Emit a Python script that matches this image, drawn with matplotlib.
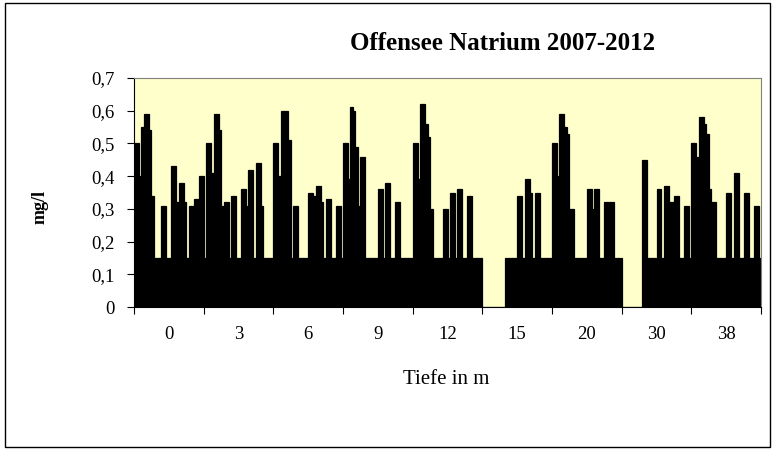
import numpy as np
import matplotlib.pyplot as plt
from matplotlib.patches import Rectangle

plt.rcParams['font.family'] = ['Liberation Serif', 'DejaVu Serif']

# Tiefen (m) und Natrium-Messwerte (mg/l) 2007-2012, je Tiefe eine Zeitreihe
tiefen = ['0', '3', '6', '9', '12', '15', '20', '30', '38']

na_0 = [0.50, 0.50, 0.40, 0.55, 0.59, 0.59, 0.54, 0.34, 0.15, 0.15, 0.15, 0.31, 0.31, 0.15,
        0.15, 0.43, 0.43, 0.32, 0.38, 0.38, 0.32, 0.15, 0.31, 0.31, 0.33, 0.33, 0.40, 0.40]
na_3 = [0.15, 0.50, 0.50, 0.41, 0.59, 0.59, 0.54, 0.31, 0.32, 0.32, 0.15, 0.34, 0.34, 0.15,
        0.15, 0.36, 0.36, 0.31, 0.42, 0.42, 0.15, 0.44, 0.44, 0.31, 0.15, 0.15, 0.15, 0.15]
na_6 = [0.50, 0.50, 0.40, 0.60, 0.60, 0.60, 0.51, 0.15, 0.31, 0.31, 0.15, 0.15, 0.15, 0.15,
        0.35, 0.35, 0.34, 0.37, 0.37, 0.32, 0.15, 0.33, 0.33, 0.15, 0.15, 0.31, 0.31, 0.15]
na_9 = [0.50, 0.50, 0.39, 0.61, 0.60, 0.49, 0.31, 0.46, 0.46, 0.15, 0.15, 0.15, 0.15, 0.15,
        0.36, 0.36, 0.15, 0.38, 0.38, 0.15, 0.15, 0.32, 0.32, 0.15, 0.15, 0.15, 0.15, 0.15]
na_12 = [0.50, 0.50, 0.39, 0.62, 0.62, 0.56, 0.52, 0.30, 0.15, 0.15, 0.15, 0.15, 0.30, 0.30,
         0.15, 0.35, 0.35, 0.15, 0.36, 0.36, 0.15, 0.15, 0.34, 0.34, 0.15, 0.15, 0.15, 0.15]
na_15 = [0, 0, 0, 0, 0, 0, 0, 0, 0, 0.15, 0.15, 0.15, 0.15, 0.15,
         0.34, 0.34, 0.15, 0.39, 0.39, 0.35, 0.15, 0.35, 0.35, 0.15, 0.15, 0.15, 0.15, 0.15]
na_20 = [0.50, 0.50, 0.40, 0.59, 0.59, 0.55, 0.53, 0.30, 0.30, 0.15, 0.15, 0.15, 0.15, 0.15,
         0.36, 0.36, 0.30, 0.36, 0.36, 0.15, 0.15, 0.32, 0.32, 0.32, 0.32, 0.15, 0.15, 0.15]
na_30 = [0, 0, 0, 0, 0, 0, 0, 0, 0.45, 0.45, 0.15, 0.15, 0.15, 0.15,
         0.36, 0.36, 0.15, 0.37, 0.37, 0.32, 0.32, 0.34, 0.34, 0.15, 0.15, 0.31, 0.31, 0.15]
na_38 = [0.50, 0.50, 0.46, 0.58, 0.58, 0.56, 0.53, 0.36, 0.32, 0.32, 0.15, 0.15, 0.15, 0.15,
         0.35, 0.35, 0.15, 0.41, 0.41, 0.15, 0.15, 0.35, 0.35, 0.15, 0.15, 0.31, 0.31, 0.15]

gruppen = [na_0, na_3, na_6, na_9, na_12, na_15, na_20, na_30, na_38]
werte = [v for g in gruppen for v in g]
n = len(na_0)

fig = plt.figure(figsize=(7.74, 4.5), dpi=100)
ax = fig.add_axes([134/774, 143/450, 627/774, 229/450])

x = np.arange(len(werte))
ax.bar(x, werte, width=1.0, color='black', edgecolor='black', linewidth=0.9)
ax.set_xlim(-0.5, len(werte) - 0.5)
ax.set_ylim(0, 0.7)
ax.set_facecolor('#FFFFCC')

yt = np.arange(0, 0.71, 0.1)
ax.set_yticks(yt)
ax.set_yticklabels(['0'] + ['0,%d' % i for i in range(1, 8)])

grenzen = np.arange(len(tiefen) + 1) * n - 0.5
ax.set_xticks(grenzen)
ax.set_xticklabels([])
mitten = np.arange(len(tiefen)) * n + n / 2 - 0.5
ax.set_xticks(mitten, minor=True)
ax.set_xticklabels(tiefen, minor=True)

ax.tick_params(axis='x', which='minor', length=0, pad=14, labelsize=13.5)
ax.tick_params(axis='x', which='major', length=5, direction='out', color='black')
ax.tick_params(axis='y', length=5, pad=9, labelsize=13.5)

for s in ['top', 'right']:
    ax.spines[s].set_color('#808080')
for s in ['left', 'bottom']:
    ax.spines[s].set_color('black')

fig.text(503/774, 1 - 43/450, 'Offensee Natrium 2007-2012', ha='center', va='center',
         fontsize=18, fontweight='bold')
fig.text(446/774, 1 - 379/450, 'Tiefe in m', ha='center', va='center', fontsize=15)
fig.text(40/774, 1 - 207/450, 'mg/l', rotation=90, ha='center', va='center',
         fontsize=13, fontweight='bold')

fig.patches.append(Rectangle((5/774, 3/450), 765/774, 444/450, transform=fig.transFigure,
                             fill=False, edgecolor='black', linewidth=1))

fig.savefig('out.png', dpi=100)
